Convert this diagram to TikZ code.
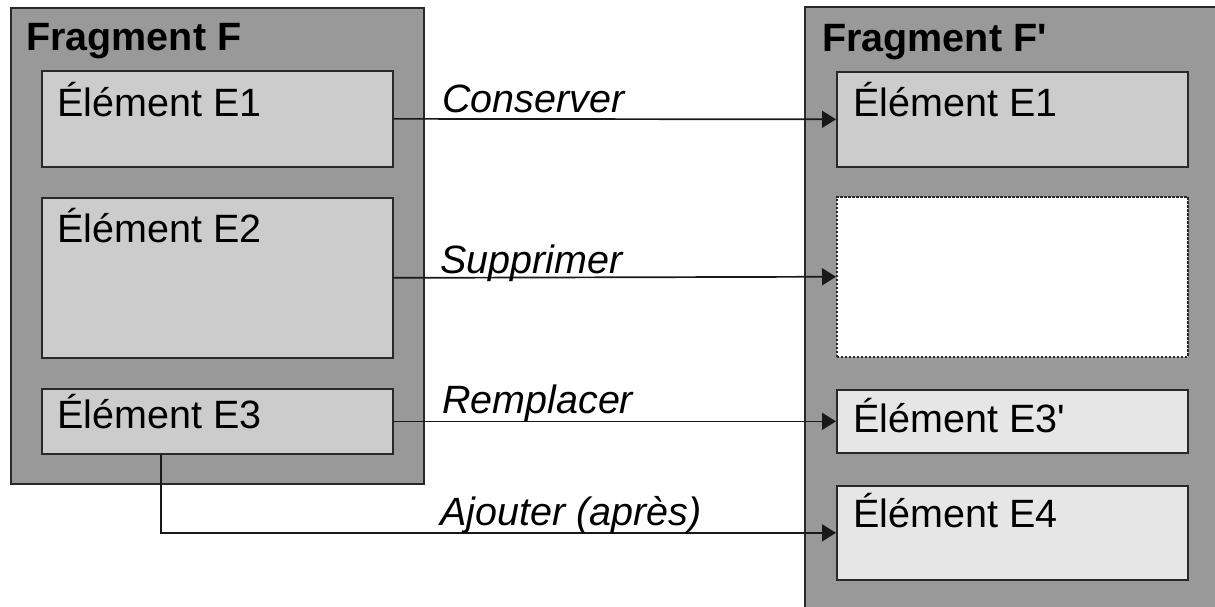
\documentclass[tikz,border=0pt]{standalone}
\usepackage{fontspec}
\setmainfont{Liberation Sans}[Ligatures=TeXOff]
\usetikzlibrary{arrows.meta}
\definecolor{framegray}{HTML}{999999}
\definecolor{boxgray}{HTML}{CCCCCC}
\definecolor{boxlight}{HTML}{E6E6E6}
\definecolor{edge}{HTML}{282828}
\tikzset{
  frame/.style={draw=edge, line width=1.7pt, fill=framegray, anchor=north west, inner sep=0pt},
  elem/.style={draw=edge, line width=1.7pt, fill=boxgray, anchor=north west, inner sep=0pt, minimum width=351pt},
  elemlight/.style={elem, fill=boxlight},
  ghost/.style={elem, fill=white, line width=1.5pt, dash pattern=on 2.5pt off 1.5pt},
  txt/.style={anchor=base west, inner sep=0pt, font=\fontsize{39.5pt}{44pt}\selectfont},
  ttl/.style={txt, font=\fontsize{39.5pt}{44pt}\selectfont\bfseries},
  lbl/.style={txt, font=\fontsize{39.5pt}{44pt}\selectfont\itshape},
  arr/.style={draw=black!90, line width=1.7pt, -{Triangle[length=14pt,width=17pt]}}
}
\begin{document}
\begin{tikzpicture}[x=1pt,y=-1pt]
\useasboundingbox (0,0) rectangle (1215,607);
\clip (0,0) rectangle (1215,607);
\fill[white] (0,0) rectangle (1215,607);
% left fragment
\node[frame, minimum width=413pt, minimum height=476pt] (fl) at (10,7) {};
\node[ttl] (tfl) at (26,51) {Fragment F};
\node[elem, minimum height=96pt] (e1) at (41,70) {};
\node[txt] (te1) at (57,117) {Élément E1};
\node[elem, minimum height=160pt] (e2) at (41,197) {};
\node[txt] (te2) at (57,242) {Élément E2};
\node[elem, minimum height=65pt] (e3) at (41,388) {};
\node[txt] (te3) at (57,428) {Élément E3};
% right fragment
\node[frame, minimum width=440pt, minimum height=640pt] (fr) at (804,6) {};
\node[ttl] (tfr) at (822,52) {Fragment F'};
\node[elem, minimum height=95pt] (r1) at (836,71) {};
\node[txt] (tr1) at (853,117) {Élément E1};
\node[ghost, minimum height=160pt] (r2) at (836,196) {};
\node[elemlight, minimum height=63pt] (r3) at (836,389) {};
\node[txt] (tr3) at (853,432) {Élément E3'};
\node[elemlight, minimum height=94pt] (r4) at (836,485) {};
\node[txt] (tr4) at (853,527) {Élément E4};
% connectors
\draw[arr] (e1.east) -- (r1.west);
\draw[arr] (e2.east) -- (r2.west);
\draw[arr] (e3.east) -- (r3.west);
\coordinate (ajx) at (161,0);
\draw[arr] (e3.south -| ajx) |- (r4.west);
% labels
\node[lbl] (lc) at (442,113) {Conserver};
\node[lbl] (ls) at (440,273) {Supprimer};
\node[lbl] (lr) at (442,413) {Remplacer};
\node[lbl] (la) at (440,525) {Ajouter (après)};
\end{tikzpicture}
\end{document}
